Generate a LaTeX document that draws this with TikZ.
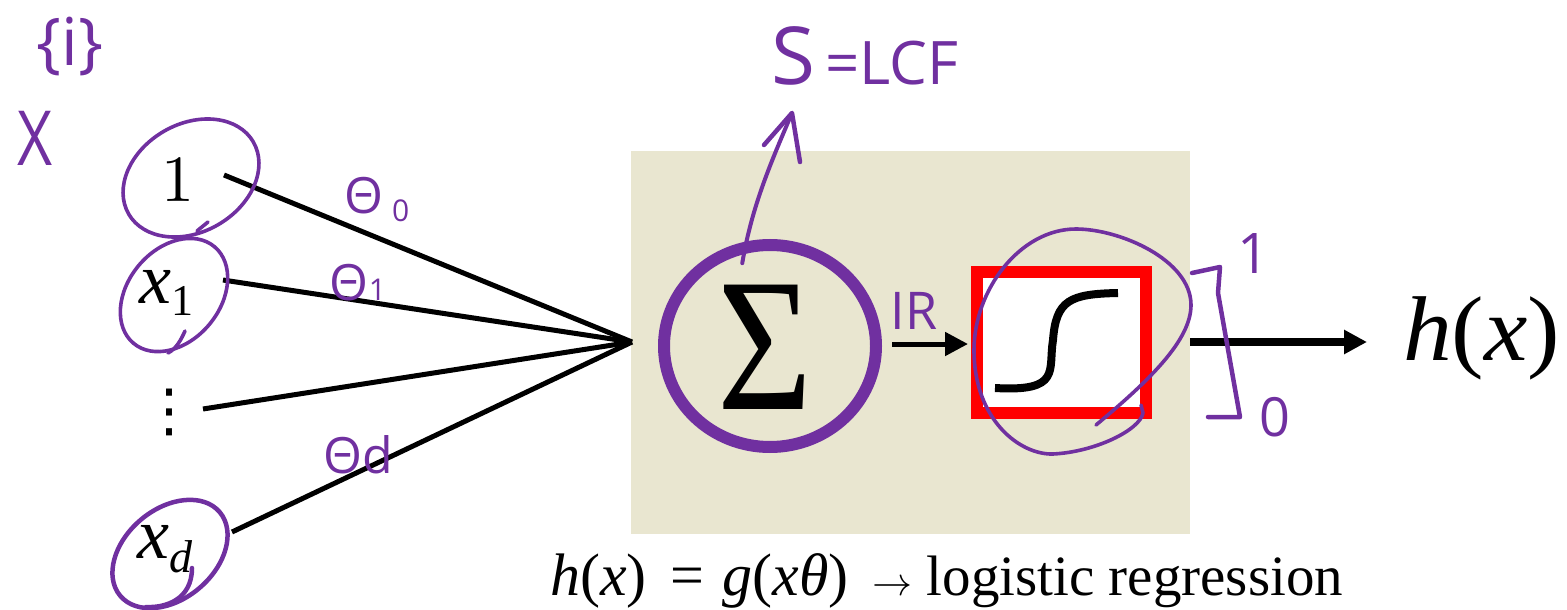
\documentclass[tikz,border=0pt]{standalone}
\usepackage{graphicx}
\usepackage{fontspec}
\usetikzlibrary{arrows.meta,shapes.geometric}
\newfontfamily\handfont{Open Sans}
\newfontfamily\symfont{Liberation Serif}
\newfontfamily\dotfont{DejaVu Sans}
\definecolor{hand}{HTML}{7030A0}
\definecolor{boxbg}{HTML}{E9E6D0}
\newcommand{\fsz}[1]{\fontsize{#1}{#1}\selectfont}
\newcommand{\mscale}[2]{\scalebox{#1}{\fsz{10}$#2$}}
\newcommand{\hofx}{\textit{h}(\textit{x})}
\tikzset{
  x=1pt,y=-1pt,
  ink/.style={draw=hand,line width=4.5pt,line cap=round,line join=round},
  thinink/.style={draw=hand,line width=3.6pt,line cap=round,line join=round},
  handtext/.style={text=hand,inner sep=0pt,font=\handfont},
  mathtext/.style={text=black,inner sep=0pt,font=\symfont},
  feed/.style={draw=black,line width=5pt},
  flow/.style={draw=black,-{Triangle[length=23pt,width=23pt]}},
}
\begin{document}
\begin{tikzpicture}
\useasboundingbox (0,0) rectangle (1567,610);
\fill[boxbg] (631,151) rectangle (1190,534);

% coordinates
\coordinate (hub) at (632,342);
\coordinate (inA) at (224,175);
\coordinate (inB) at (223,280);
\coordinate (inC) at (203,409);
\coordinate (inD) at (232,532);
\coordinate (tip) at (792,113);
\coordinate (ringone) at (191,178);
\coordinate (ringtwo) at (174,295);
\coordinate (ringthree) at (170,554);

% input connectors
\draw[feed] (inA) -- (hub);
\draw[feed] (inB) -- (hub);
\draw[feed] (inC) -- (hub);
\draw[feed] (inD) -- (hub);

% input labels
\node[inner sep=0pt] (one) at (178,180) {\mscale{6.6}{1}};
\node[mathtext,anchor=base west] (xone) at (139,303) {\fsz{72}\textit{x}\raisebox{-12pt}{\fsz{44}1}};
\node[mathtext,font=\dotfont] (dots) at (169,412) {\fsz{58}⋮};
\node[mathtext,anchor=base west] (xd) at (137,558) {\fsz{72}\textit{x}\raisebox{-14pt}{\fsz{46}\textit{d}}};

% summation
\node[ellipse,draw=hand,line width=12pt,minimum width=212pt,minimum height=202pt,inner sep=0pt] (sum) at (770,346) {};
\node[mathtext] (sigma) at (765,347) {\scalebox{.86}[1]{\fsz{190}Σ}};

% activation
\node[draw=red,fill=white,line width=12pt,minimum width=169pt,minimum height=141pt,inner sep=0pt] (act) at (1061.5,342.5) {};
\draw[black,line width=8pt] (995,388) .. controls (1062,392) and (1048,370) .. (1053,340) .. controls (1056,300) and (1070,294) .. (1118,293);

% flow arrows
\coordinate (irstart) at (892,344);
\coordinate (irend) at (968,344);
\coordinate (outstart) at (1190,342);
\coordinate (outend) at (1367,342);
\draw[flow,line width=5pt] (irstart) -- (irend);
\draw[flow,line width=8pt] (outstart) -- (outend);
\node[mathtext,anchor=base west] (hx) at (1403,360) {\scalebox{1.06}[1]{\fsz{92}\hofx}};
\node[mathtext,anchor=base west] (eq) at (550,595) {\fsz{60}\hofx\hspace{24pt}=\hspace{18pt}\textit{g}(\textit{xθ})\hspace{24pt}\mscale{4}{\rightarrow}\hspace{14pt}\fsz{57}logistic regression};

% handwritten rings
\draw[thinink,rotate around={30:(ringone)}] (ringone) ellipse [x radius=72pt,y radius=54pt];
\draw[thinink] (197,231) -- (208,222);
\draw[thinink,rotate around={50:(ringtwo)}] (ringtwo) ellipse [x radius=63pt,y radius=46pt];
\draw[thinink] (168,353) .. controls (176,349) and (181,340) .. (185,331);
\draw[ink,rotate around={40:(ringthree)}] (ringthree) ellipse [x radius=65pt,y radius=45pt];
\draw[ink] (146,607) .. controls (165,608) and (192,600) .. (192,568);

% ring round the activation box
\draw[thinink] (1096,425) .. controls (1150,380) and (1191,340) .. (1191,305) .. controls (1191,260) and (1120,229) .. (1076,229) .. controls (1020,229) and (974,290) .. (974,350) .. controls (974,420) and (1020,455) .. (1053,454) .. controls (1095,452) and (1140,430) .. (1143,413) -- (1141,405);

% arrow out of the summation
\draw[ink,line width=4pt,shorten <=-22pt] (sum.103) .. controls (752,205) and (772,160) .. (tip);
\draw[ink] (764,145) -- (tip) -- (800,162);

% bracket
\draw[ink] (1192,273) -- (1220,267) -- (1218,293) -- (1240,417) -- (1208,417);

% handwritten labels
\node[handtext] (setlabel) at (70,47) {\fsz{66}\{i\}};
\node[handtext,xscale=.8,transform shape] (xlabel) at (35,138) {\fsz{76}X};
\node[handtext] (slabel) at (865,56) {\fsz{80}S\fsz{60}\,=LCF};
\node[handtext] (t0) at (377,200) {\fsz{50}Θ\,{\fsz{30}\raisebox{-8pt}{0}}};
\node[handtext] (t1) at (358,283) {\fsz{50}Θ{\fsz{30}1}};
\node[handtext] (td) at (358,455) {\fsz{50}Θd};
\node[handtext] (ir) at (914,311) {\fsz{52}IR};
\node[handtext] (hi) at (1253,254) {\fsz{56}1};
\node[handtext] (lo) at (1275,417) {\fsz{54}0};
\end{tikzpicture}
\end{document}
